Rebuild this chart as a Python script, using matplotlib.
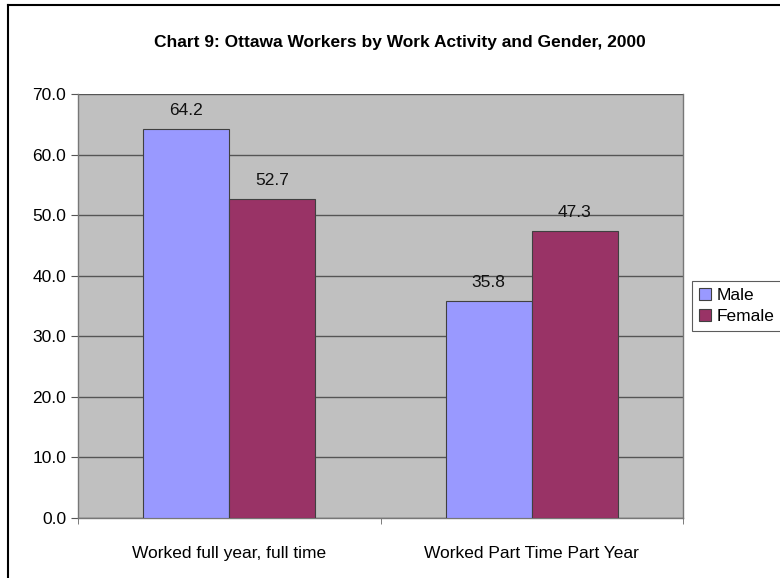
import numpy as np
import matplotlib.pyplot as plt

# Data
categories = ['Worked full year, full time', 'Worked Part Time Part Year']
male = [64.2, 35.8]
female = [52.7, 47.3]
yticks = [0, 10, 20, 30, 40, 50, 60, 70]

plt.rcParams['font.family'] = ['Liberation Sans', 'DejaVu Sans']
fs = 12.5

fig = plt.figure(figsize=(7.8, 5.78), dpi=100)
# plot area: x 78..683 px, y 94..518 px
ax = fig.add_axes([78 / 780, (578 - 518) / 578, 605 / 780, 424 / 578])
ax.set_facecolor('#C0C0C0')

x = np.arange(len(categories))
w = 0.284
b1 = ax.bar(x - w / 2, male, w, color='#9999FF', edgecolor='#404040', linewidth=0.8, label='Male', zorder=3)
b2 = ax.bar(x + w / 2, female, w, color='#993366', edgecolor='#404040', linewidth=0.8, label='Female', zorder=3)

for bars in (b1, b2):
    for r in bars:
        ax.annotate(f'{r.get_height():.1f}', (r.get_x() + r.get_width() / 2, r.get_height()),
                    xytext=(0, 13.5), textcoords='offset points',
                    ha='center', va='center', fontsize=fs, color='#111111')

ax.set_xlim(-0.5, 1.5)
ax.set_ylim(0, 70)
ax.set_yticks(yticks)
ax.set_yticklabels([f'{v:.1f}' for v in yticks], fontsize=fs)
ax.set_xticks(x)
ax.set_xticklabels(categories, fontsize=fs)
ax.set_xticks([-0.5, 0.5, 1.5], minor=True)
ax.tick_params(axis='x', which='major', length=0, pad=20)
ax.tick_params(axis='x', which='minor', length=4, color='#666666')
ax.tick_params(axis='y', length=5, color='#555555', pad=3.5)
ax.yaxis.grid(True, color='#555555', linewidth=1.0, zorder=1)
ax.set_axisbelow(True)
ax.spines['top'].set_visible(False)
for s in ['left', 'bottom', 'right']:
    ax.spines[s].set_color('#777777')
    ax.spines[s].set_linewidth(1.0)

fig.text(400 / 780, 1 - 43 / 578, 'Chart 9: Ottawa Workers by Work Activity and Gender, 2000',
         ha='center', va='center', fontsize=fs, fontweight='bold')

leg = ax.legend(loc='center left', bbox_to_anchor=(1.006, 0.5), fontsize=fs, frameon=True,
                fancybox=False, edgecolor='#333333', handlelength=0.7, handleheight=0.7,
                handletextpad=0.3, borderpad=0.4, labelspacing=0.35, borderaxespad=0.3)
leg.get_frame().set_linewidth(0.8)

# outer border (left and top edges visible in the crop)
fig.add_artist(plt.Line2D([8 / 780, 8 / 780], [0, 1 - 5 / 578], transform=fig.transFigure,
                          color='black', linewidth=1.5))
fig.add_artist(plt.Line2D([8 / 780, 1], [1 - 5 / 578, 1 - 5 / 578], transform=fig.transFigure,
                          color='black', linewidth=1.5))

fig.savefig('out.png', dpi=100)
